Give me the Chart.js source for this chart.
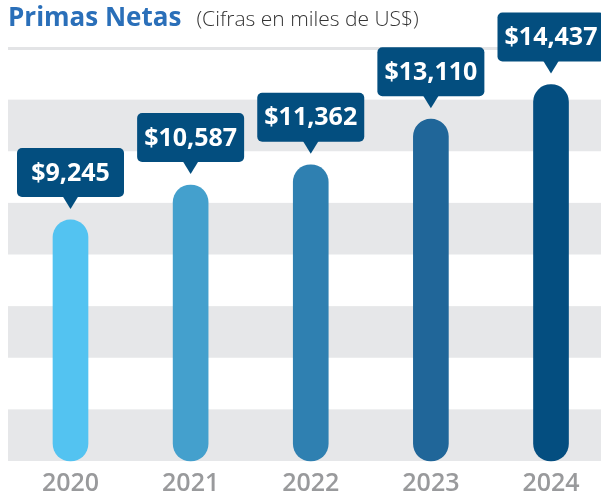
<!DOCTYPE html>
<html>
<head>
<meta charset="utf-8">
<script src="https://cdn.jsdelivr.net/npm/chart.js@4"></script>
<style>
  html, body { margin: 0; padding: 0; background: #fff; }
  #wrap { position: relative; width: 601px; height: 493px; }
  #titulo { position: absolute; left: 8px; top: -2px; font-family: "Open Sans", sans-serif; white-space: nowrap; z-index: 2; }
  #titulo .principal { font-size: 26px; font-weight: 700; color: #2a6fb9; }
  #titulo .sub { font-size: 21px; font-weight: 300; color: #333; margin-left: 15px; }
  canvas { position: absolute; left: 0; top: 0; }
</style>
</head>
<body>
<div id="wrap">
  <div id="titulo"><span class="principal">Primas Netas</span><span class="sub">(Cifras en miles de US$)</span></div>
  <canvas id="grafico" width="601" height="493"></canvas>
</div>
<script>
// Datos
const anios = ['2020', '2021', '2022', '2023', '2024'];
const primas = [9245, 10587, 11362, 13110, 14437];

// Colores de las barras
const coresBarras = ['#53c3f1', '#44a0cd', '#2f80b1', '#206699', '#044e80'];

// Franjas grises de fondo y línea superior
const franjas = {
    id: 'franjas',
    beforeDatasetsDraw(chart) {
        const ctx = chart.ctx;
        const y = chart.scales.y;
        const ticks = y.ticks;
        ctx.save();
        ctx.fillStyle = '#e6e7e9';
        for (let i = 0; i + 1 < ticks.length; i += 2) {
            const y0 = y.getPixelForValue(ticks[i].value);
            const y1 = y.getPixelForValue(ticks[i + 1].value);
            ctx.fillRect(8, y1, chart.width - 8, y0 - y1);
        }
        // linea superior
        ctx.fillStyle = '#e3e4e6';
        const yTop = y.getPixelForValue(y.max);
        ctx.fillRect(8, yTop - 1, chart.width - 8, 3);
        ctx.restore();
    }
};

// Globos con el valor encima de cada barra
const globos = {
    id: 'globos',
    afterDatasetsDraw(chart) {
        const ctx = chart.ctx;
        const meta = chart.getDatasetMeta(0);
        const ancho = 107, alto = 49, pico = 12, separacion = 11;
        ctx.save();
        meta.data.forEach((barra, i) => {
            const x = barra.x;
            const punta = barra.y - separacion;
            const base = punta - pico;
            const arriba = base - alto;
            ctx.fillStyle = '#034e7f';
            ctx.beginPath();
            ctx.roundRect(x - ancho / 2, arriba, ancho, alto, 5);
            ctx.fill();
            ctx.beginPath();
            ctx.moveTo(x - 8, base - 1);
            ctx.lineTo(x + 8, base - 1);
            ctx.lineTo(x, punta);
            ctx.closePath();
            ctx.fill();
            ctx.fillStyle = '#ffffff';
            ctx.font = '700 25px "Open Sans"';
            ctx.textAlign = 'center';
            ctx.textBaseline = 'middle';
            ctx.fillText('$' + primas[i].toLocaleString('en-US'), x, arriba + alto / 2 + 1);
        });
        ctx.restore();
    }
};

let ctx = document.getElementById('grafico').getContext('2d');
let grafico = new Chart(ctx, {
    type: 'bar',
    data: {
        labels: anios,
        datasets: [{
            data: primas,
            backgroundColor: coresBarras,
            barThickness: 35,
            borderRadius: 18,
            borderSkipped: false,
            clip: false
        }]
    },
    options: {
        responsive: false,
        animation: false,
        layout: {
            padding: { left: 70.5, right: 50, top: 48, bottom: -13 }
        },
        plugins: {
            legend: { display: false },
            tooltip: { enabled: false }
        },
        scales: {
            x: {
                offset: false,
                grid: { display: false, drawTicks: false },
                border: { display: false },
                ticks: {
                    color: '#999a9c',
                    padding: 10,
                    font: { family: 'Open Sans', size: 25, weight: '600', lineHeight: 1 }
                }
            },
            y: {
                display: false,
                min: 0,
                max: 15840,
                ticks: { stepSize: 1980 }
            }
        }
    },
    plugins: [franjas, globos]
});
</script>
</body>
</html>
